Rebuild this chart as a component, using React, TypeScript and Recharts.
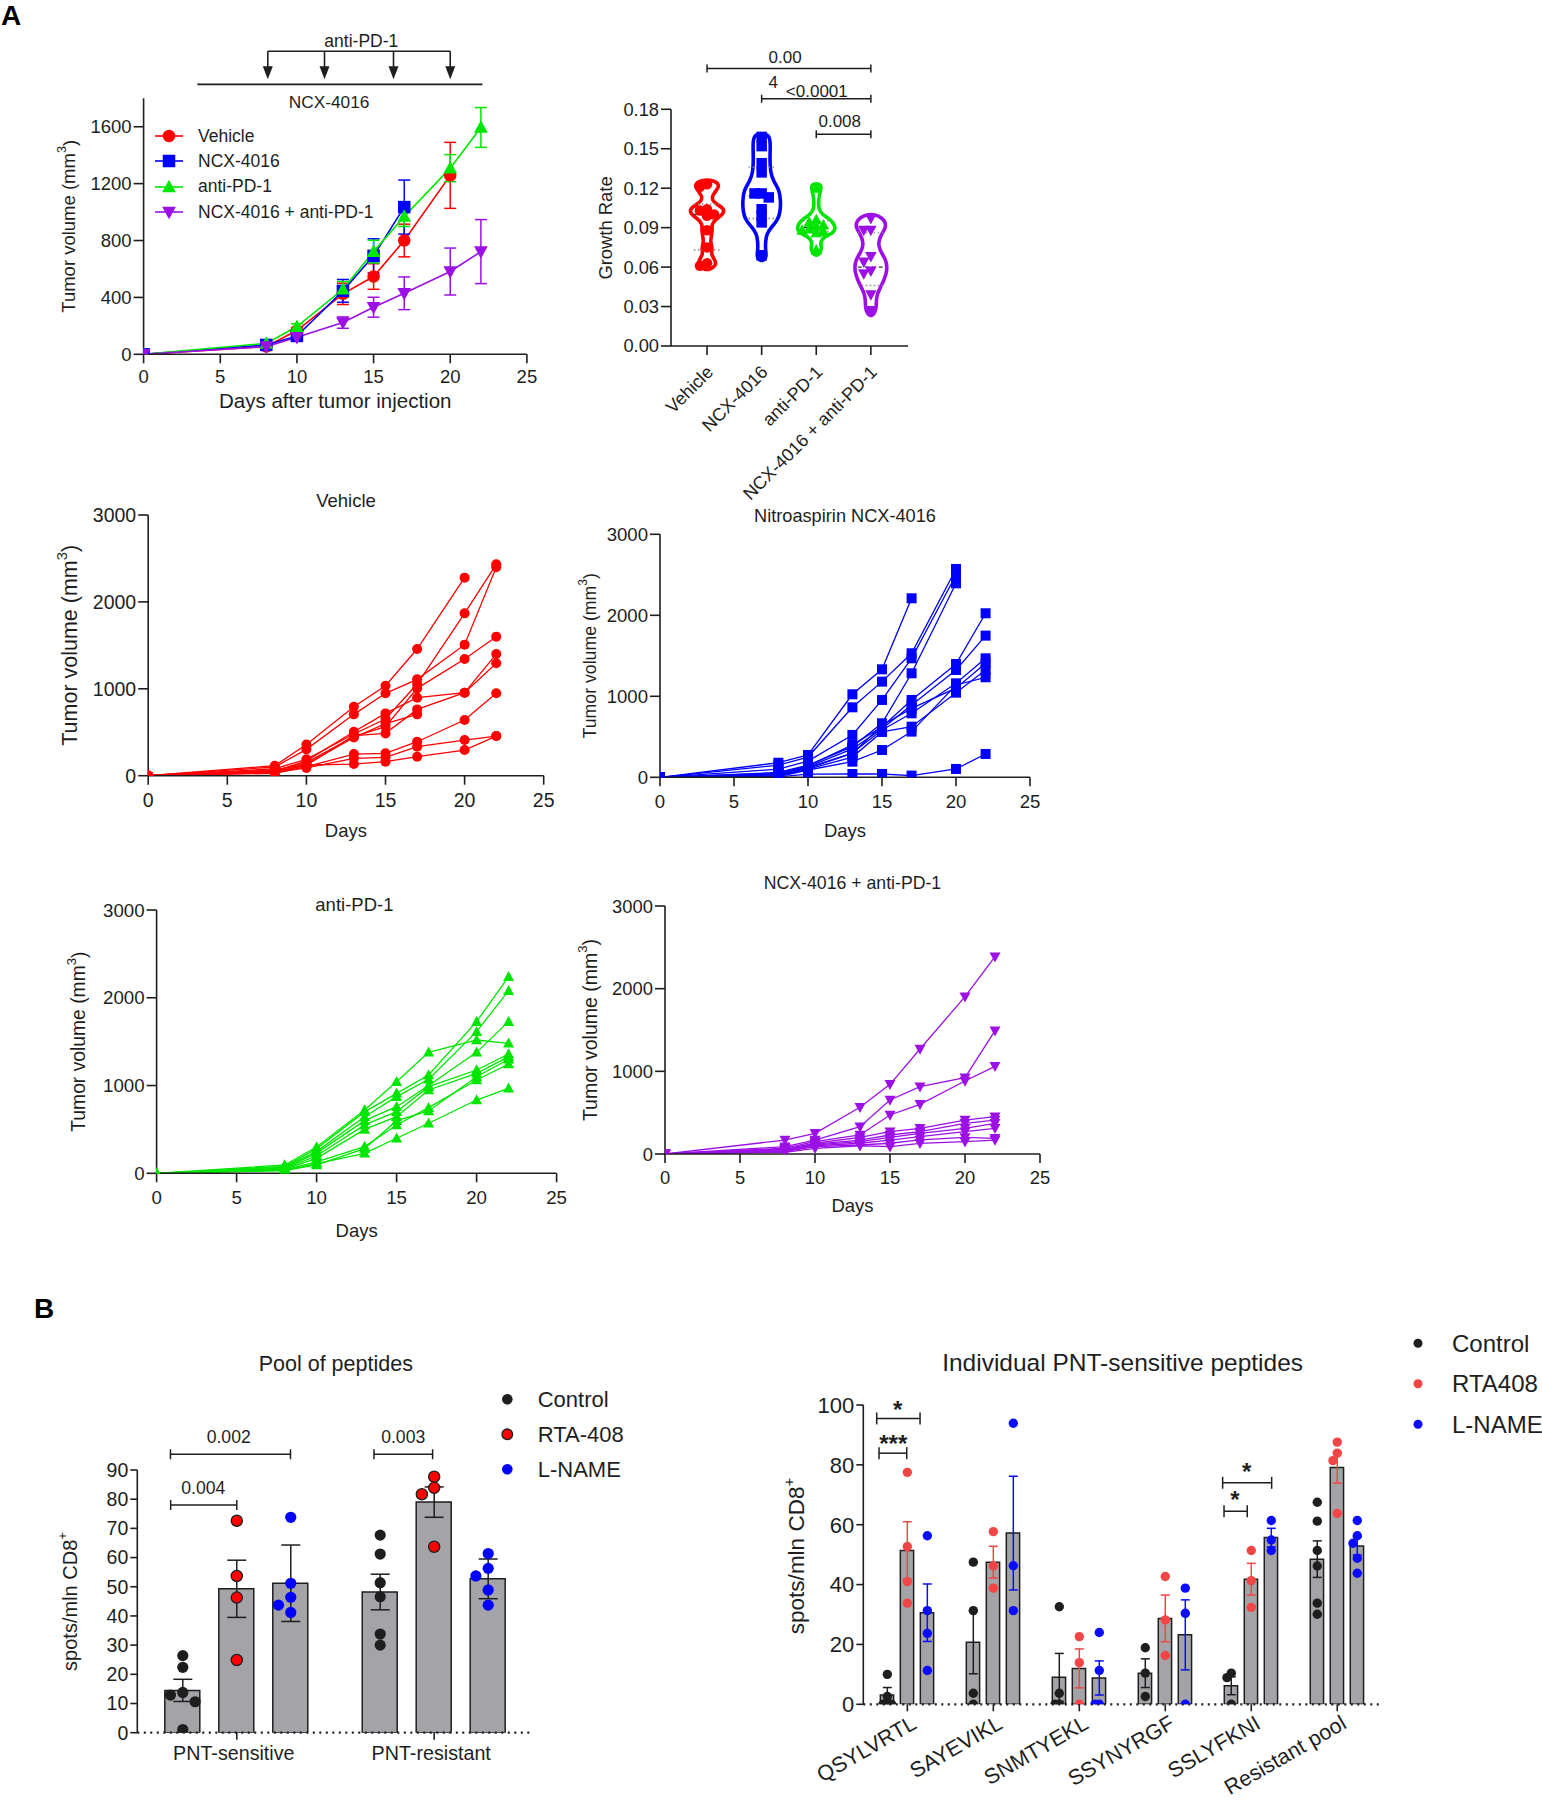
import React from 'react';
import {
  LineChart, ComposedChart, Line, Scatter, Bar, XAxis, YAxis, ErrorBar,
  ReferenceLine, ReferenceDot, Legend,
} from 'recharts';

/* ======================= DATA ======================= */
// Panel A – mean tumour volume (mm3) ± SEM
const days = [0, 8, 10, 13, 15, 17, 20, 22];
const groupNames = ['Vehicle', 'NCX-4016', 'anti-PD-1', 'NCX-4016 + anti-PD-1'];
const vehicleMean = [0, 55, 167, 425, 547, 800, 1258, null];
const vehicleSem = [0, 8, 20, 75, 90, 115, 232, null];
const ncxMean = [0, 66, 129, 446, 692, 1035, null, null];
const ncxSem = [0, 8, 15, 80, 120, 190, null, null];
const antiMean = [0, 77, 195, 457, 722, 969, 1309, 1595];
const antiSem = [0, 8, 20, 55, 80, 70, 95, 140];
const comboMean = [0, 54, 120, 223, 331, 429, 582, 722];
const comboSem = [0, 6, 15, 40, 70, 115, 165, 225];
const antiPd1DoseDays = [8.1, 11.8, 16.3, 20.0];
const ncxTreatmentSpan = [3.5, 22.1];

// Panel A – growth rate per mouse
const vehicleRate = [0.123, 0.121, 0.104, 0.103, 0.100, 0.099, 0.088, 0.075, 0.063, 0.061];
const ncxRate = [0.159, 0.152, 0.139, 0.132, 0.116, 0.116, 0.113, 0.104, 0.099, 0.094, 0.069];
const antiRate = [0.120, 0.096, 0.094, 0.092, 0.091, 0.089, 0.088, 0.087, 0.086, 0.073];
const comboRate = [0.097, 0.088, 0.088, 0.068, 0.064, 0.057, 0.055, 0.039, 0.027];
// violin outlines: [growth rate, half width]
const vehicleViolin = [[0.1262, 0.04], [0.1250, 0.17], [0.1215, 0.23], [0.1175, 0.15], [0.113, 0.08], [0.109, 0.12], [0.105, 0.31], [0.1005, 0.31], [0.0965, 0.16], [0.092, 0.08], [0.0885, 0.10], [0.084, 0.08], [0.079, 0.06], [0.0745, 0.10], [0.070, 0.07], [0.065, 0.15], [0.0615, 0.17], [0.0580, 0.05]];
const ncxViolin = [[0.1615, 0.05], [0.1595, 0.15], [0.152, 0.16], [0.142, 0.15], [0.132, 0.16], [0.125, 0.22], [0.119, 0.32], [0.111, 0.35], [0.101, 0.34], [0.095, 0.28], [0.090, 0.17], [0.085, 0.09], [0.079, 0.07], [0.073, 0.07], [0.068, 0.09], [0.0650, 0.04]];
const antiViolin = [[0.1235, 0.05], [0.1210, 0.10], [0.116, 0.06], [0.110, 0.04], [0.104, 0.045], [0.100, 0.11], [0.097, 0.23], [0.093, 0.33], [0.089, 0.35], [0.086, 0.31], [0.083, 0.14], [0.079, 0.07], [0.075, 0.10], [0.0715, 0.08], [0.0690, 0.03]];
const comboViolin = [[0.1000, 0.08], [0.0975, 0.20], [0.094, 0.27], [0.090, 0.27], [0.086, 0.21], [0.081, 0.15], [0.076, 0.14], [0.071, 0.19], [0.066, 0.27], [0.060, 0.30], [0.055, 0.28], [0.050, 0.24], [0.045, 0.18], [0.040, 0.12], [0.035, 0.10], [0.030, 0.10], [0.026, 0.08], [0.0230, 0.03]];
// [lower quartile, median, upper quartile]
const vehicleQuart = [0.073, 0.100, 0.108];
const ncxQuart = [0.097, 0.114, 0.136];
const antiQuart = [0.087, 0.090, 0.095];
const comboQuart = [0.046, 0.060, 0.086];
const rateTicks = [0, 0.03, 0.06, 0.09, 0.12, 0.15, 0.18];

// Panel A – individual mice, volumes at each day (null = no measurement)
const vehicleMice = [
  [0, 115, 360, 794, 1036, 1458, 2279, null],
  [0, 100, 303, 706, 948, 1109, 1508, 2398],
  [0, 80, 188, 480, 652, 1055, 1868, 2432],
  [0, 60, 150, 449, 564, 1005, 1343, 1600],
  [0, 50, 170, 506, 717, 898, 955, 1400],
  [0, 40, 120, 460, 487, 763, 955, 1293],
  [0, 27, 104, 249, 257, 391, 641, 948],
  [0, 35, 90, 199, 211, 334, 410, 456],
  [0, 45, 123, 134, 161, 219, 295, 456],
  [0, 65, 130, 440, 600, 706, null, null],
];
const ncxMice = [
  [0, 180, 276, 1025, 1333, 2210, null, null],
  [0, 150, 250, 864, 1181, 1531, 2572, null],
  [0, 100, 200, 523, 955, 1469, 2498, null],
  [0, 60, 150, 379, 667, 1284, 2395, null],
  [0, 50, 140, 400, 620, 955, 1399, 2025],
  [0, 40, 130, 350, 600, 893, 1325, 1749],
  [0, 30, 120, 300, 584, 790, 1160, 1469],
  [0, 20, 110, 296, 640, 850, 1100, 1407],
  [0, 15, 100, 250, 560, 625, 1045, 1325],
  [0, 10, 90, 193, 337, 564, 1140, 1235],
  [0, 5, 40, 41, 41, 21, 103, 288],
];
const antiMice = [
  [0, 95, 300, 721, 1044, 1378, 1519, 1481],
  [0, 80, 280, 700, 911, 1120, 1728, 2240],
  [0, 70, 250, 645, 873, 1071, 1614, 2081],
  [0, 60, 230, 600, 759, 1000, 1378, 1728],
  [0, 50, 200, 551, 702, 987, 1177, 1359],
  [0, 45, 171, 500, 645, 949, 1139, 1329],
  [0, 40, 130, 304, 551, 748, 1063, 1245],
  [0, 35, 110, 228, 399, 570, 835, 968],
  [0, 30, 95, 280, 600, 710, 1100, 1300],
];
const comboMice = [
  [0, 169, 250, 565, 843, 1270, 1903, 2387],
  [0, 89, 169, 331, 653, 814, 923, 1492],
  [0, 70, 150, 230, 472, 601, 883, 1060],
  [0, 60, 130, 200, 270, 310, 411, 452],
  [0, 50, 120, 169, 230, 270, 371, 411],
  [0, 40, 110, 150, 200, 250, 310, 371],
  [0, 35, 100, 130, 169, 210, 270, 310],
  [0, 28, 90, 109, 130, 170, 200, 190],
  [0, 20, 69, 100, 89, 129, 149, 169],
];

// Panel B – pool of peptides (spots/mln CD8+)
const poolCats = ['PNT-sensitive', 'PNT-resistant'];
const bGroups = ['Control', 'RTA-408', 'L-NAME'];
const poolCtrlMean = [14.5, 48.2];
const poolCtrlSem = [3.8, 6.1];
const poolRtaMean = [49.3, 79.0];
const poolRtaSem = [9.8, 5.2];
const poolLnMean = [51.2, 52.7];
const poolLnSem = [13.1, 6.8];
const poolCtrlPts = [[26.4, 22.4, 13.8, 12.9, 10.6, 1.1], [67.7, 61.2, 51.4, 46.6, 33.8, 30.0]];
const poolRtaPts = [[72.6, 53.7, 46.3, 24.9], [87.7, 83.9, 81.7, 63.7]];
const poolLnPts = [[73.8, 51.2, 46.4, 43.7, 41.2], [61.4, 56.3, 53.7, 48.9, 43.7]];

// Panel B – individual PNT-sensitive peptides
const indivCats = ['QSYLVRTL', 'SAYEVIKL', 'SNMTYEKL', 'SSYNYRGF', 'SSLYFKNI', 'Resistant pool'];
const indivGroups = ['Control', 'RTA408', 'L-NAME'];
const indivCtrlMean = [3.1, 20.7, 9.0, 10.4, 6.2, 48.5];
const indivCtrlSem = [2.5, 10.5, 8.0, 4.8, 3.0, 6.1];
const indivRtaMean = [51.4, 47.5, 12.0, 28.7, 41.8, 79.1];
const indivRtaSem = [9.6, 5.3, 6.5, 7.8, 5.3, 5.2];
const indivLnMean = [30.6, 57.2, 8.8, 23.2, 55.7, 52.9];
const indivLnSem = [9.6, 19.0, 5.7, 11.7, 3.1, 3.0];
const indivCtrlPts = [[10.0, 2.6, 0, 0, 0], [47.5, 31.3, 3.7, 0], [32.6, 3.7, 0, 0], [18.9, 10.4, 2.6], [10.4, 8.9, 0], [67.5, 61.2, 51.4, 46.2, 33.8, 30.1]];
const indivRtaPts = [[77.5, 52.7, 41.0, 33.8], [57.7, 46.2, 38.8], [22.6, 13.9, 0], [42.7, 28.2, 16.3], [51.4, 41.3, 32.4], [87.6, 83.9, 81.4, 63.8]];
const indivLnPts = [[56.3, 31.3, 23.7, 11.3], [93.9, 46.3, 31.3], [24.0, 11.3, 0, 0], [38.8, 30.4, 0], [61.4, 54.9, 51.4], [61.4, 56.3, 53.8, 48.8, 43.8]];

/* ======================= STYLE ======================= */
const SANS = "'Liberation Sans', Arial, Helvetica, sans-serif";
const INK = '#1e1e1e';
const RED = '#ff0000';
const BLUE = '#0000ff';
const GREEN = '#00e600';
const PURPLE = '#9c10e6';
const GRAY_BAR = '#a4a4a8';
const B_RED = '#f24646';
const B_BLUE = '#0b0bff';
const axisStroke = { stroke: INK, strokeWidth: 1.6 };

type Geo = { L: number; T: number; W: number; H: number; x0: number; y0: number; x1: number; y1: number };
const margins = (g: Geo) => ({ top: g.y0 - g.T, right: g.L + g.W - g.x1, left: 0, bottom: 0 });
const yW = (g: Geo) => g.x0 - g.L;
const xH = (g: Geo) => g.T + g.H - g.y1;
const tickFont = (size: number) => ({ fill: INK, fontSize: size, fontFamily: SANS });

function Box({ g, children }: any) {
  return <div style={{ position: 'absolute', left: g.L, top: g.T, width: g.W, height: g.H }}>{children}</div>;
}

function Marker(kind: string, cx: any, cy: any, s: number, fill: string, key: any, stroke?: string) {
  if (cx == null || cy == null || Number.isNaN(cx) || Number.isNaN(cy)) return <g key={key} />;
  const h = s / 2;
  if (kind === 'circle')
    return <circle key={key} cx={cx} cy={cy} r={h} fill={fill} stroke={stroke || 'none'} strokeWidth={stroke ? 1.3 : 0} />;
  if (kind === 'square') return <rect key={key} x={cx - h} y={cy - h} width={s} height={s} fill={fill} />;
  if (kind === 'up')
    return <polygon key={key} points={`${cx},${cy - h * 1.15} ${cx + h * 1.1},${cy + h * 0.85} ${cx - h * 1.1},${cy + h * 0.85}`} fill={fill} />;
  return <polygon key={key} points={`${cx},${cy + h * 1.15} ${cx + h * 1.1},${cy - h * 0.85} ${cx - h * 1.1},${cy - h * 0.85}`} fill={fill} />;
}

// horizontal spread of overlapping points (beeswarm-like layout)
function dodge(values: number[], tol: number, step: number, maxSlot = 4): number[] {
  const order = values.map((_, i) => i).sort((a, b) => values[b] - values[a]);
  const placed: { v: number; s: number }[] = [];
  const out = values.map(() => 0);
  const slots = [0];
  for (let k = 1; k <= maxSlot; k++) slots.push(-k, k);
  for (const i of order) {
    const v = values[i];
    let chosen = 0;
    for (const s of slots) {
      if (!placed.some((p) => p.s === s && Math.abs(p.v - v) < tol)) { chosen = s; break; }
    }
    placed.push({ v, s: chosen });
    out[i] = chosen * step;
  }
  return out;
}

const refText = (key: string, x: number, y: number, s: string, style: any, xAxisId: any = 0) => (
  <ReferenceDot key={key} x={x} y={y} r={0} ifOverflow="visible" xAxisId={xAxisId}
    shape={(p: any) => (
      <text x={p.cx} y={p.cy} textAnchor="middle" dominantBaseline="central" fill={INK} {...style}>{s}</text>
    )} />
);

const bracket = (key: string, xa: number, xb: number, y: number, tick: number, sw = 1.5) => [
  <ReferenceLine key={key + 'h'} segment={[{ x: xa, y }, { x: xb, y }]} stroke={INK} strokeWidth={sw} ifOverflow="visible" />,
  <ReferenceLine key={key + 'l'} segment={[{ x: xa, y: y - tick }, { x: xa, y: y + tick }]} stroke={INK} strokeWidth={sw} ifOverflow="visible" />,
  <ReferenceLine key={key + 'r'} segment={[{ x: xb, y: y - tick }, { x: xb, y: y + tick }]} stroke={INK} strokeWidth={sw} ifOverflow="visible" />,
];

const volumeLabel = (x: number, y: number, size: number) => (
  <text x={x} y={y} transform={`rotate(-90, ${x}, ${y})`} textAnchor="middle" dominantBaseline="central"
    fontFamily={SANS} fontSize={size} fill={INK}>
    Tumor volume (mm<tspan fontSize={size * 0.68} dy={-size * 0.4}>3</tspan><tspan dy={size * 0.4}>)</tspan>
  </text>
);

/* ======================= PANEL A: mean growth ======================= */
const G1: Geo = { L: 0, T: 25, W: 550, H: 405, x0: 143.6, y0: 98.3, x1: 526.9, y1: 354.3 };
const meanSeries = [
  { name: groupNames[0], color: RED, kind: 'circle', mean: vehicleMean, sem: vehicleSem },
  { name: groupNames[1], color: BLUE, kind: 'square', mean: ncxMean, sem: ncxSem },
  { name: groupNames[2], color: GREEN, kind: 'up', mean: antiMean, sem: antiSem },
  { name: groupNames[3], color: PURPLE, kind: 'down', mean: comboMean, sem: comboSem },
];
const rowsOf = (mean: any[], sem: any[]) =>
  days.map((d, i) => ({ x: d, y: mean[i], err: sem[i] })).filter((r) => r.y != null);

function MeanGrowth() {
  const g = G1;
  const topY = 2131;
  const tipY = 1934;
  const ncxY = 1898;
  return (
    <Box g={g}>
      <LineChart width={g.W} height={g.H} margin={margins(g)}>
        <XAxis type="number" dataKey="x" domain={[0, 25]} ticks={[0, 5, 10, 15, 20, 25]} allowDataOverflow
          height={xH(g)} tick={tickFont(18.5)} tickSize={9} tickMargin={7} axisLine={axisStroke} tickLine={axisStroke}
          label={{
            content: () => (
              <text x={(g.x0 + g.x1) / 2 - g.L} y={400 - g.T} textAnchor="middle" dominantBaseline="central" fontFamily={SANS} fontSize={20.5} fill={INK}>
                Days after tumor injection
              </text>
            ),
          }} />
        <YAxis type="number" domain={[0, 1800]} ticks={[0, 400, 800, 1200, 1600]} allowDataOverflow width={yW(g)}
          tick={tickFont(18.5)} tickSize={10} tickMargin={2} axisLine={axisStroke} tickLine={axisStroke}
          label={{ content: () => volumeLabel(69 - g.L, 226.3 - g.T, 18.5) }} />
        {meanSeries.map((s) => (
          <Line key={s.name} data={rowsOf(s.mean, s.sem)} dataKey="y" name={s.name} stroke={s.color} strokeWidth={1.6}
            isAnimationActive={false} activeDot={false}
            dot={(p: any) => Marker(s.kind, p.cx, p.cy, 12.5, s.color, `d${p.index}`)}>
            <ErrorBar dataKey="err" direction="y" width={6} stroke={s.color} strokeWidth={1.5} isAnimationActive={false} />
          </Line>
        ))}
        <ReferenceLine segment={[{ x: antiPd1DoseDays[0], y: topY }, { x: antiPd1DoseDays[antiPd1DoseDays.length - 1], y: topY }]}
          stroke={INK} strokeWidth={1.6} ifOverflow="visible" />
        {antiPd1DoseDays.map((d) => (
          <ReferenceLine key={'s' + d} segment={[{ x: d, y: topY }, { x: d, y: tipY + 70 }]} stroke={INK} strokeWidth={1.6} ifOverflow="visible" />
        ))}
        {antiPd1DoseDays.map((d) => (
          <ReferenceDot key={'a' + d} x={d} y={tipY} r={0} ifOverflow="visible"
            shape={(p: any) => <polygon points={`${p.cx},${p.cy} ${p.cx - 5},${p.cy - 13} ${p.cx + 5},${p.cy - 13}`} fill={INK} />} />
        ))}
        <ReferenceLine segment={[{ x: ncxTreatmentSpan[0], y: ncxY }, { x: ncxTreatmentSpan[1], y: ncxY }]}
          stroke={INK} strokeWidth={1.6} ifOverflow="visible" />
        {refText('t1', 14.2, 2200, 'anti-PD-1', { fontFamily: SANS, fontSize: 17.5 })}
        {refText('t2', 12.1, 1772, 'NCX-4016', { fontFamily: SANS, fontSize: 17.3 })}
        <Legend layout="vertical" align="center" verticalAlign="middle"
          wrapperStyle={{ position: 'absolute', left: 155 - g.L, top: 123.5 - g.T, width: 270, height: 102 }}
          content={() => (
            <div style={{ fontFamily: SANS, fontSize: 17.5, color: INK }}>
              {meanSeries.map((s) => (
                <div key={s.name} style={{ display: 'flex', alignItems: 'center', height: 25.3 }}>
                  <svg width={28} height={16} style={{ display: 'block' }}>
                    <line x1={0} y1={8} x2={28} y2={8} stroke={s.color} strokeWidth={1.6} />
                    {Marker(s.kind, 14, 8, 12.5, s.color, 'm')}
                  </svg>
                  <span style={{ marginLeft: 15, whiteSpace: 'nowrap' }}>{s.name}</span>
                </div>
              ))}
            </div>
          )} />
      </LineChart>
    </Box>
  );
}

/* ======================= PANEL A: violin ======================= */
const G2: Geo = { L: 585, T: 30, W: 330, H: 490, x0: 671, y0: 109.3, x1: 908, y1: 346 };
const violinGroups = [
  { color: RED, kind: 'circle', values: vehicleRate, profile: vehicleViolin, quart: vehicleQuart },
  { color: BLUE, kind: 'square', values: ncxRate, profile: ncxViolin, quart: ncxQuart },
  { color: GREEN, kind: 'up', values: antiRate, profile: antiViolin, quart: antiQuart },
  { color: PURPLE, kind: 'down', values: comboRate, profile: comboViolin, quart: comboQuart },
];
const outline = (c: number, profile: number[][]) => [
  ...profile.map(([v, w]) => ({ x: c + w, y: v })),
  ...profile.slice().reverse().map(([v, w]) => ({ x: c - w, y: v })),
];

const violinTick = (p: any) => {
  const x = p.x + 3;
  const y = p.y + 12;
  return (
    <text x={x} y={y} transform={`rotate(-45, ${x}, ${y})`} textAnchor="end" dominantBaseline="central"
      fontFamily={SANS} fontSize={18} fill={INK}>
      {groupNames[p.payload.value - 1]}
    </text>
  );
};

function GrowthViolin() {
  const g = G2;
  return (
    <Box g={g}>
      <ComposedChart width={g.W} height={g.H} margin={margins(g)}>
        <XAxis type="number" dataKey="x" domain={[0.34, 4.68]} ticks={[1, 2, 3, 4]} allowDataOverflow height={xH(g)}
          tick={violinTick} tickSize={9} tickMargin={2} axisLine={axisStroke} tickLine={axisStroke} interval={0} />
        <YAxis type="number" dataKey="y" domain={[0, 0.18]} ticks={rateTicks} allowDataOverflow width={yW(g)}
          tickFormatter={(v: number) => v.toFixed(2)} tick={tickFont(18.3)} tickSize={10} tickMargin={2}
          axisLine={axisStroke} tickLine={axisStroke}
          label={{
            content: () => (
              <text x={605 - g.L} y={228 - g.T} transform={`rotate(-90, ${605 - g.L}, ${228 - g.T})`} textAnchor="middle"
                dominantBaseline="central" fontFamily={SANS} fontSize={18.4} fill={INK}>Growth Rate</text>
            ),
          }} />
        {violinGroups.map((gr, i) => (
          <Line key={'v' + i} data={outline(i + 1, gr.profile)} dataKey="y" type="basisClosed" stroke={gr.color}
            strokeWidth={3.6} dot={false} activeDot={false} isAnimationActive={false} />
        ))}
        {violinGroups.map((gr, i) =>
          gr.quart.map((q, k) => (
            <ReferenceLine key={`q${i}-${k}`} segment={[{ x: i + 1 - 0.24, y: q }, { x: i + 1 + 0.24, y: q }]}
              stroke={k === 1 ? '#333' : '#888'} strokeWidth={1.4} strokeDasharray={k === 1 ? '4 3' : '1.5 2.5'} />
          ))
        )}
        {violinGroups.map((gr, i) => {
          const off = dodge(gr.values, 0.0045, 0.13, 2);
          const pts = gr.values.map((v, k) => ({ x: i + 1 + off[k], y: v }));
          return (
            <Scatter key={'p' + i} data={pts} isAnimationActive={false}
              shape={(p: any) => Marker(gr.kind, p.cx, p.cy, 10.5, gr.color, 'pt')} />
          );
        })}
        {bracket('b1', 1, 4, 0.211, 0.003)}
        {bracket('b2', 2, 4, 0.188, 0.003)}
        {bracket('b3', 3, 4, 0.161, 0.003)}
        {refText('l1', 2.43, 0.2195, '0.00', { fontFamily: SANS, fontSize: 17 })}
        {refText('l2', 2.21, 0.2005, '4', { fontFamily: SANS, fontSize: 17 })}
        {refText('l3', 3.01, 0.1935, '<0.0001', { fontFamily: SANS, fontSize: 17 })}
        {refText('l4', 3.43, 0.1705, '0.008', { fontFamily: SANS, fontSize: 17 })}
      </ComposedChart>
    </Box>
  );
}

/* ======================= PANEL A: individual curves ======================= */
function Spaghetti({ g, mice, color, kind, title, titlePos, ylabX, ylabSize, daysY, tick, titleSize }: any) {
  const rows = days.map((d, i) => {
    const r: any = { x: d };
    mice.forEach((m: any[], j: number) => { r['m' + j] = m[i]; });
    return r;
  });
  const cx = (g.x0 + g.x1) / 2 - g.L;
  return (
    <Box g={g}>
      <LineChart width={g.W} height={g.H} data={rows} margin={margins(g)}>
        <XAxis type="number" dataKey="x" domain={[0, 25]} ticks={[0, 5, 10, 15, 20, 25]} allowDataOverflow height={xH(g)}
          tick={tickFont(tick)} tickSize={9} tickMargin={8} axisLine={axisStroke} tickLine={axisStroke}
          label={{
            content: () => (
              <text x={cx} y={daysY - g.T} textAnchor="middle" dominantBaseline="central" fontFamily={SANS} fontSize={18.5} fill={INK}>Days</text>
            ),
          }} />
        <YAxis type="number" domain={[0, 3000]} ticks={[0, 1000, 2000, 3000]} allowDataOverflow width={yW(g)}
          tick={tickFont(tick)} tickSize={10} tickMargin={2} axisLine={axisStroke} tickLine={axisStroke}
          label={{
            content: () => (
              <g>
                <text x={titlePos[0] - g.L} y={titlePos[1] - g.T} textAnchor="middle" dominantBaseline="central"
                  fontFamily={SANS} fontSize={titleSize} fill={INK}>{title}</text>
                {volumeLabel(ylabX - g.L, (g.y0 + g.y1) / 2 - g.T, ylabSize)}
              </g>
            ),
          }} />
        {mice.map((_: any, j: number) => (
          <Line key={j} dataKey={'m' + j} stroke={color} strokeWidth={1.3} isAnimationActive={false} activeDot={false}
            dot={(p: any) => Marker(kind, p.cx, p.value == null ? null : p.cy, 10, color, `d${j}-${p.index}`)} />
        ))}
      </LineChart>
    </Box>
  );
}

/* ======================= PANEL B: bars with dots ======================= */
function DotBars({ g, cats, offsets, means, sems, pts, fills, strokes, errColors, barSize, dotR, yDomain, yTicks,
  tol, step, errW, xDomain, xTick, yTickSize, label, extras }: any) {
  const barRows: any[] = [];
  cats.forEach((_: any, i: number) => means.forEach((m: number[], k: number) => barRows.push({ x: i + 1 + offsets[k], y: m[i] })));
  return (
    <ComposedChart width={g.W} height={g.H} data={barRows} margin={margins(g)}>
      <XAxis type="number" dataKey="x" domain={xDomain} ticks={cats.map((_: any, i: number) => i + 1)} allowDataOverflow
        height={xH(g)} tick={xTick} tickSize={7} tickMargin={0} interval={0}
        axisLine={{ stroke: INK, strokeWidth: 2.2, strokeDasharray: '2 4.5' }} tickLine={axisStroke} />
      <XAxis xAxisId="pts" type="number" dataKey="x" domain={xDomain} allowDataOverflow hide />
      <YAxis type="number" dataKey="y" domain={yDomain} ticks={yTicks} allowDataOverflow width={yW(g)}
        tick={tickFont(yTickSize)} tickSize={7} tickMargin={2} axisLine={axisStroke} tickLine={axisStroke}
        label={label} />
      <Bar dataKey="y" barSize={barSize} fill={GRAY_BAR} stroke={INK} strokeWidth={1.5} isAnimationActive={false} />
      {means.map((m: number[], k: number) => (
        <Scatter key={'e' + k} xAxisId="pts"
          data={cats.map((_: any, i: number) => ({ x: i + 1 + offsets[k], y: m[i], err: sems[k][i] }))}
          isAnimationActive={false} shape={() => <g />}>
          <ErrorBar dataKey="err" direction="y" width={errW} stroke={errColors[k]} strokeWidth={1.5} isAnimationActive={false} />
        </Scatter>
      ))}
      {pts.map((grp: number[][], k: number) => {
        const data: any[] = [];
        grp.forEach((vals, i) => {
          const off = dodge(vals, tol, step);
          vals.forEach((v, n) => data.push({ x: i + 1 + offsets[k] + off[n], y: v }));
        });
        return (
          <Scatter key={'d' + k} xAxisId="pts" data={data} isAnimationActive={false}
            shape={(p: any) => Marker('circle', p.cx, p.cy, dotR * 2, fills[k], 'c', strokes[k])} />
        );
      })}
      {extras}
    </ComposedChart>
  );
}

const G7: Geo = { L: 0, T: 1330, W: 640, H: 450, x0: 137.3, y0: 1470, x1: 531.9, y1: 1732.7 };
const poolOffsets = [-0.2735, 0, 0.2735];
function PoolChart() {
  const g = G7;
  const xTick = (p: any) => (
    <text x={p.x - 3} y={p.y + 13} textAnchor="middle" dominantBaseline="central" fontFamily={SANS} fontSize={19.7} fill={INK}>
      {poolCats[p.payload.value - 1]}
    </text>
  );
  const label = {
    content: () => (
      <g>
        <text x={335.8 - g.L} y={1364 - g.T} textAnchor="middle" dominantBaseline="central" fontFamily={SANS} fontSize={21.5} fill={INK}>Pool of peptides</text>
        <text x={70 - g.L} y={1601.5 - g.T} transform={`rotate(-90, ${70 - g.L}, ${1601.5 - g.T})`} textAnchor="middle"
          dominantBaseline="central" fontFamily={SANS} fontSize={20} fill={INK}>
          spots/mln CD8<tspan fontSize={13} dy={-8}>+</tspan>
        </text>
      </g>
    ),
  };
  const f = { fontFamily: SANS, fontSize: 17.6 };
  const extras = [
    ...bracket('p1', 0.664, 1.272, 95.4, 1.7),
    ...bracket('p2', 0.665, 1.0, 78.0, 1.7),
    ...bracket('p3', 1.695, 1.992, 95.4, 1.7),
    refText('pt1', 0.959, 101.4, '0.002', f),
    refText('pt2', 0.83, 84.0, '0.004', f),
    refText('pt3', 1.843, 101.4, '0.003', f),
    <Legend key="lg" layout="vertical" align="center" verticalAlign="middle"
      wrapperStyle={{ position: 'absolute', left: 495 - g.L, top: 1380 - g.T, width: 140, height: 110 }}
      content={() => (
        <svg width={140} height={110}>
          {bGroups.map((n, k) => (
            <g key={n}>
              <circle cx={12.3} cy={19.3 + k * 35} r={5.3} fill={[INK, RED, BLUE][k]} stroke={k === 1 ? INK : 'none'} strokeWidth={1.3} />
              <text x={42.7} y={19.3 + k * 35} dominantBaseline="central" fontFamily={SANS} fontSize={22} fill={INK}>{n}</text>
            </g>
          ))}
        </svg>
      )} />,
  ];
  return (
    <Box g={g}>
      <DotBars g={g} cats={poolCats} offsets={poolOffsets}
        means={[poolCtrlMean, poolRtaMean, poolLnMean]} sems={[poolCtrlSem, poolRtaSem, poolLnSem]}
        pts={[poolCtrlPts, poolRtaPts, poolLnPts]} fills={[INK, RED, BLUE]} strokes={[undefined, INK, undefined]}
        errColors={[INK, INK, INK]} barSize={35} dotR={5.6} yDomain={[0, 90]} yTicks={[0, 10, 20, 30, 40, 50, 60, 70, 80, 90]}
        tol={3.3} step={0.0625} errW={9.5} xDomain={[0.496, 2.495]} xTick={xTick} yTickSize={19.5}
        label={label} extras={extras} />
    </Box>
  );
}

const G8: Geo = { L: 770, T: 1330, W: 772, H: 470, x0: 863.3, y0: 1405, x1: 1382.5, y1: 1704.3 };
const indivOffsets = [-0.2326, 0, 0.2326];
function IndividualChart() {
  const g = G8;
  const xTick = (p: any) => {
    const x = p.x + 3;
    const y = p.y + 3;
    return (
      <text x={x} y={y} transform={`rotate(-30, ${x}, ${y})`} textAnchor="end" dominantBaseline="hanging"
        fontFamily={SANS} fontSize={21.5} fill={INK}>{indivCats[p.payload.value - 1]}</text>
    );
  };
  const label = {
    content: () => (
      <g>
        <text x={1122.6 - g.L} y={1362.7 - g.T} textAnchor="middle" dominantBaseline="central" fontFamily={SANS} fontSize={24.5} fill={INK}>
          Individual PNT-sensitive peptides
        </text>
        <text x={796.7 - g.L} y={1556 - g.T} transform={`rotate(-90, ${796.7 - g.L}, ${1556 - g.T})`} textAnchor="middle"
          dominantBaseline="central" fontFamily={SANS} fontSize={22.5} fill={INK}>
          spots/mln CD8<tspan fontSize={15} dy={-9}>+</tspan>
        </text>
      </g>
    ),
  };
  const f = { fontFamily: SANS, fontSize: 24, fontWeight: 700 };
  const extras = [
    ...bracket('i1', 0.644, 1.148, 95.5, 2),
    ...bracket('i2', 0.671, 0.993, 83.9, 2),
    ...bracket('i3', 4.667, 5.237, 74.0, 2),
    ...bracket('i4', 4.683, 4.953, 64.5, 2),
    refText('s1', 0.888, 98.6, '*', f),
    refText('s2', 0.837, 87.3, '***', f),
    refText('s3', 4.947, 77.8, '*', f),
    refText('s4', 4.81, 68.3, '*', f),
    <Legend key="lg" layout="vertical" align="center" verticalAlign="middle"
      wrapperStyle={{ position: 'absolute', left: 1405 - g.L, top: 1320 - g.T, width: 137, height: 130 }}
      content={() => (
        <svg width={137} height={130}>
          {indivGroups.map((n, k) => (
            <g key={n}>
              <circle cx={13} cy={23.3 + k * 40.5} r={4.5} fill={[INK, B_RED, B_BLUE][k]} />
              <text x={47} y={23.3 + k * 40.5} dominantBaseline="central" fontFamily={SANS} fontSize={24} fill={INK}>{n}</text>
            </g>
          ))}
        </svg>
      )} />,
  ];
  return (
    <Box g={g}>
      <DotBars g={g} cats={indivCats} offsets={indivOffsets}
        means={[indivCtrlMean, indivRtaMean, indivLnMean]} sems={[indivCtrlSem, indivRtaSem, indivLnSem]}
        pts={[indivCtrlPts, indivRtaPts, indivLnPts]} fills={[INK, B_RED, B_BLUE]} strokes={[undefined, undefined, undefined]}
        errColors={[INK, B_RED, B_BLUE]} barSize={13.3} dotR={4.7} yDomain={[0, 100]} yTicks={[0, 20, 40, 60, 80, 100]}
        tol={2.6} step={0.05} errW={4.5} xDomain={[0.488, 6.526]} xTick={xTick} yTickSize={22}
        label={label} extras={extras} />
    </Box>
  );
}

/* ======================= APP ======================= */
export default function App() {
  return (
    <div style={{ position: 'absolute', left: 0, top: 0, width: 1542, height: 1800, background: '#fff', fontFamily: SANS, overflow: 'hidden' }}>
      <div style={{ position: 'absolute', left: 1, top: 0, fontSize: 28, fontWeight: 700, fontFamily: SANS, color: '#000', lineHeight: '32px' }}>A</div>
      <div style={{ position: 'absolute', left: 34, top: 1293, fontSize: 28, fontWeight: 700, fontFamily: SANS, color: '#000', lineHeight: '32px' }}>B</div>
      <MeanGrowth />
      <GrowthViolin />
      <Spaghetti g={{ L: 40, T: 480, W: 525, H: 365, x0: 148.2, y0: 515, x1: 543.7, y1: 775.7 }} mice={vehicleMice}
        color={RED} kind="circle" title="Vehicle" titlePos={[346, 500.7]} ylabX={70.4} ylabSize={21.5} daysY={830}
        tick={19.5} titleSize={18.5} />
      <Spaghetti g={{ L: 570, T: 500, W: 480, H: 345, x0: 660, y0: 534.3, x1: 1030, y1: 777.3 }} mice={ncxMice}
        color={BLUE} kind="square" title="Nitroaspirin NCX-4016" titlePos={[845, 516]} ylabX={590} ylabSize={17.7} daysY={830}
        tick={18.6} titleSize={18.2} />
      <Spaghetti g={{ L: 40, T: 880, W: 530, H: 365, x0: 156.6, y0: 910, x1: 556.6, y1: 1173.3 }} mice={antiMice}
        color={GREEN} kind="up" title="anti-PD-1" titlePos={[354.4, 904]} ylabX={78.9} ylabSize={19.3} daysY={1230}
        tick={18.7} titleSize={18.5} />
      <Spaghetti g={{ L: 570, T: 865, W: 490, H: 355, x0: 665, y0: 906, x1: 1040, y1: 1154 }} mice={comboMice}
        color={PURPLE} kind="down" title="NCX-4016 + anti-PD-1" titlePos={[852.5, 883.3]} ylabX={590} ylabSize={19.5} daysY={1205}
        tick={18.4} titleSize={17.7} />
      <PoolChart />
      <IndividualChart />
    </div>
  );
}
